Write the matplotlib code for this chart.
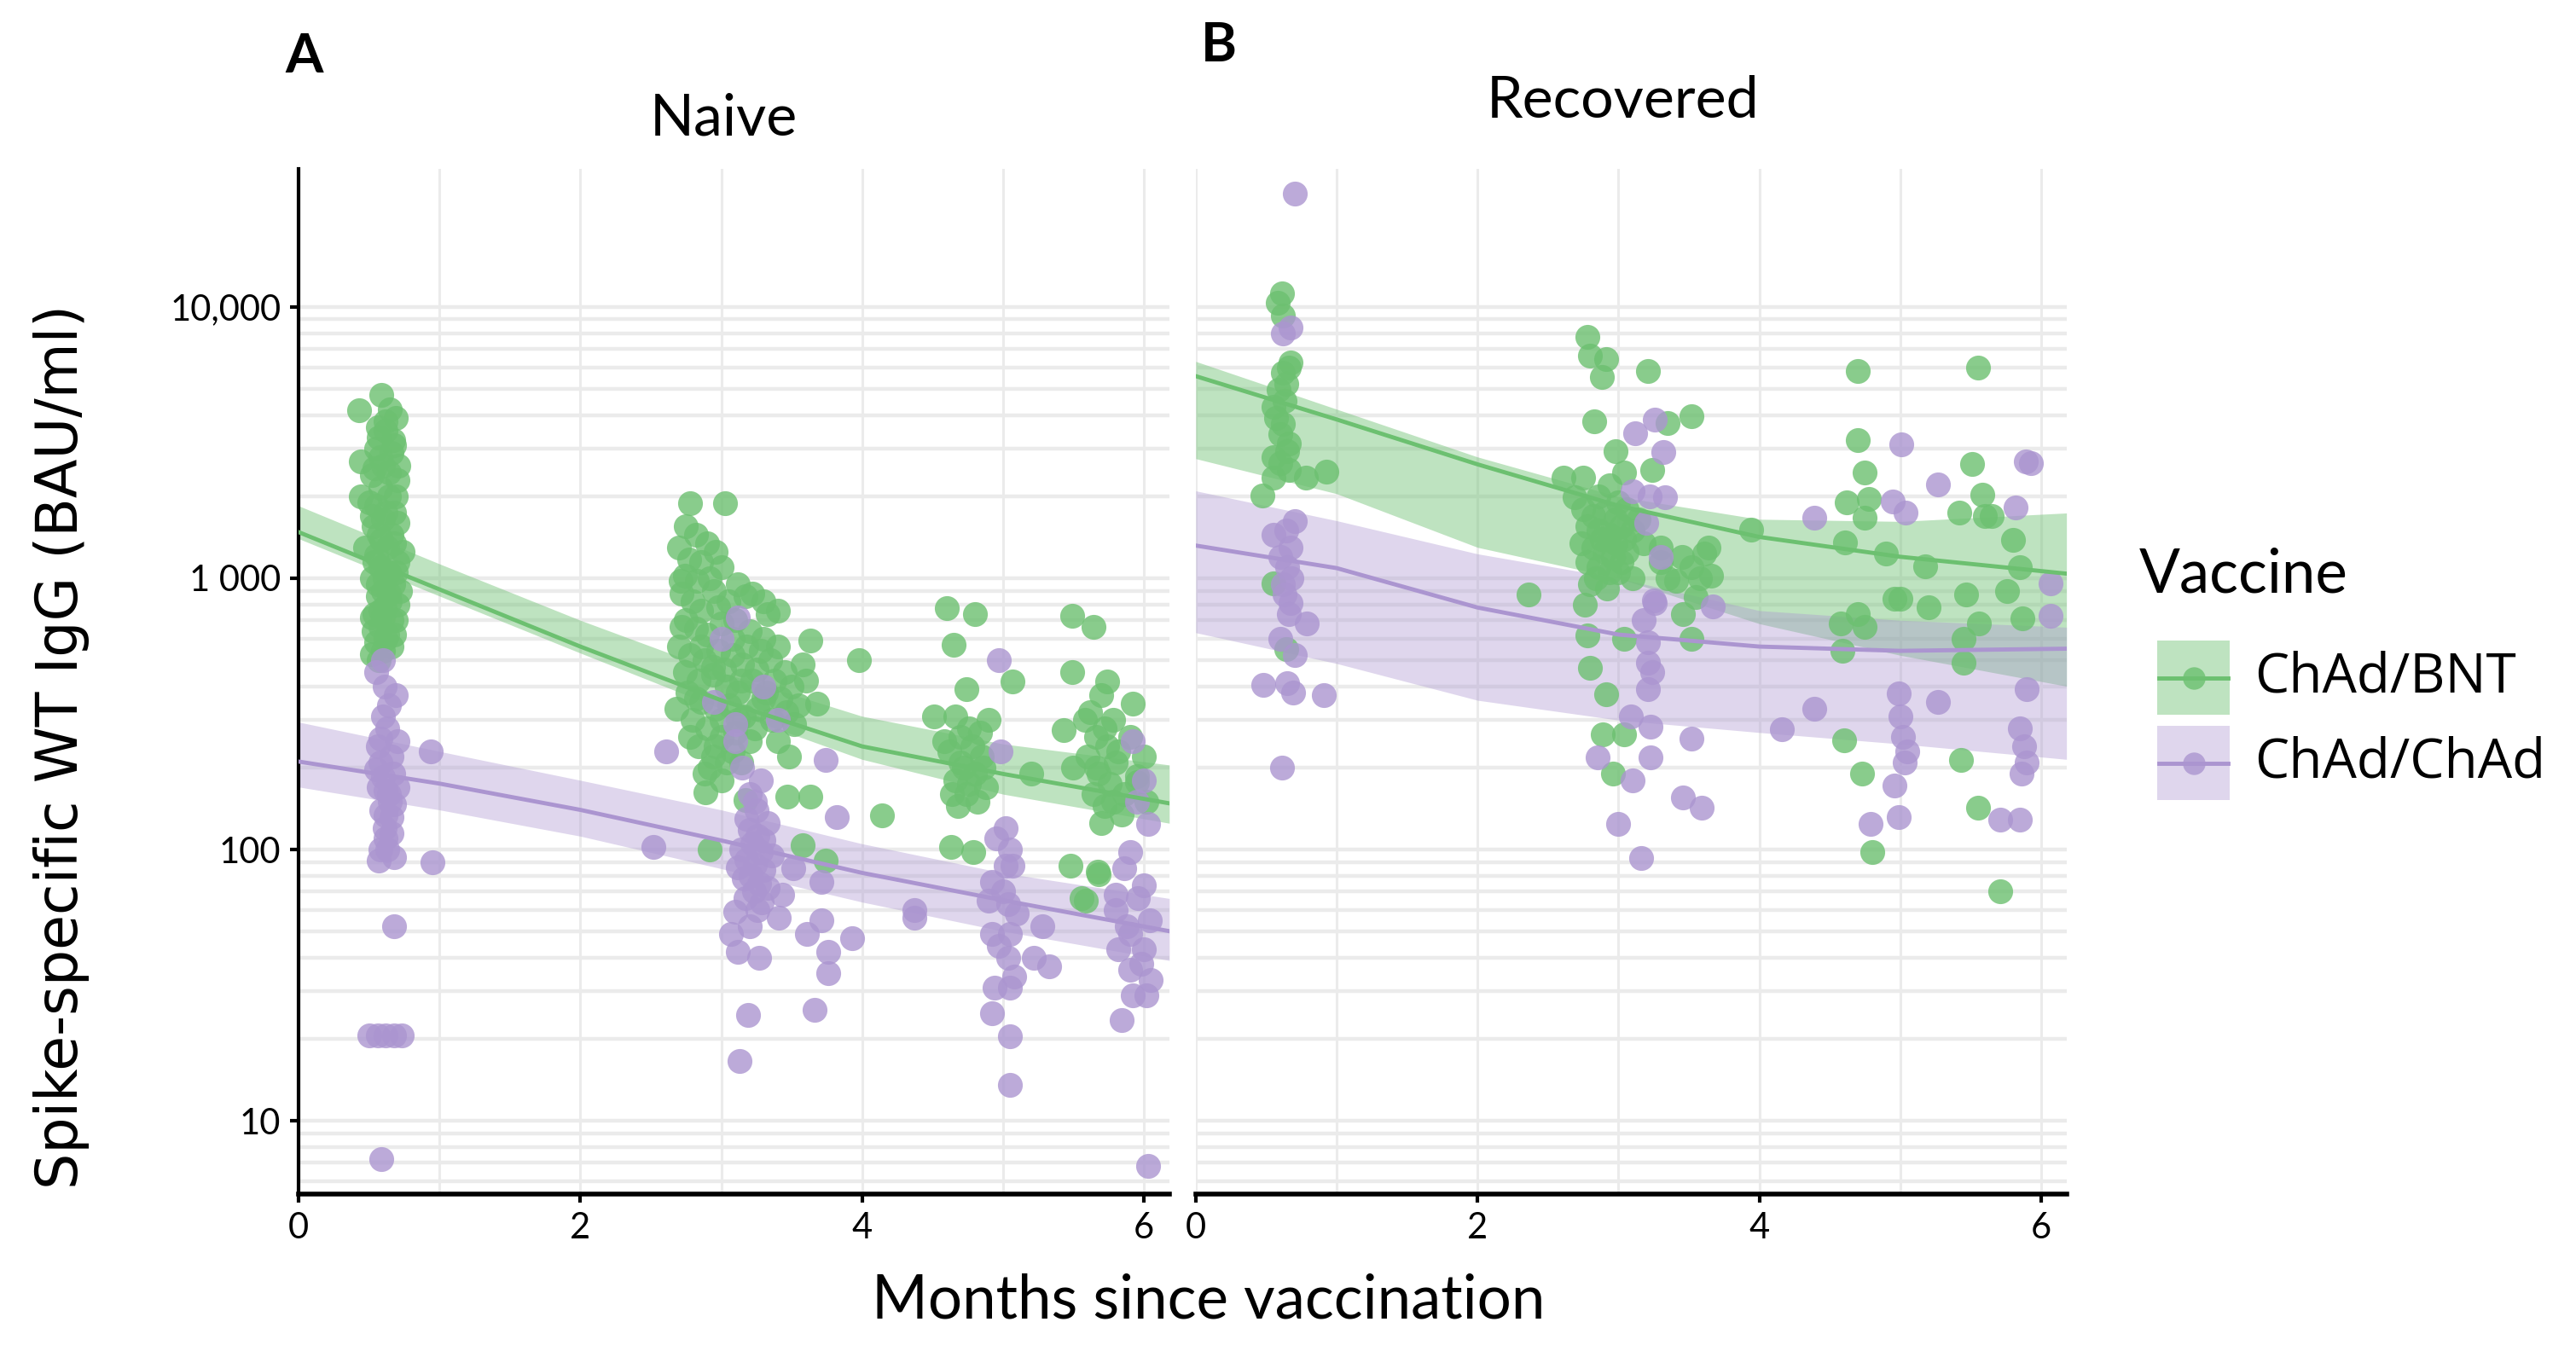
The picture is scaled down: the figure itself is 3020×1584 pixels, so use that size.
import numpy as np
import matplotlib
matplotlib.use("Agg")
import matplotlib.pyplot as plt
from matplotlib.patches import Rectangle
from matplotlib.ticker import FixedLocator, NullFormatter

GREEN = "#6cc070"
PURPLE = "#ab95d0"
GRID = "#ebebeb"

# fitted curves (months since vaccination, BAU/ml)
fit_months = [0, 1, 2, 3, 4, 5, 6.18]

naive_bnt_fit = [1480, 910, 560, 355, 240, 190, 148]
naive_bnt_hi = [1850, 1130, 700, 450, 310, 245, 205]
naive_bnt_lo = [1400, 860, 530, 330, 215, 160, 125]

naive_chad_fit = [211, 175, 140, 108, 82, 65, 50]
naive_chad_hi = [295, 230, 180, 140, 105, 82, 66]
naive_chad_lo = [170, 140, 112, 85, 64, 50, 39]

rec_bnt_fit = [5560, 3850, 2630, 1850, 1420, 1200, 1040]
rec_bnt_hi = [6300, 4200, 2800, 2000, 1650, 1620, 1740]
rec_bnt_lo = [2760, 2050, 1300, 1000, 680, 520, 400]

rec_chad_fit = [1320, 1090, 780, 620, 560, 540, 550]
rec_chad_hi = [2100, 1630, 1230, 1000, 760, 700, 660]
rec_chad_lo = [630, 485, 355, 300, 270, 245, 215]

# individual samples (month, BAU/ml)
naive_bnt_pts = [
    (0.59, 4740), (0.43, 4170), (0.69, 3900), (0.67, 3230), (0.44, 2700), (0.44, 2000),
    (0.52, 716), (0.52, 525), (0.62, 3500), (0.55, 3000), (0.66, 2900), (0.60, 2600),
    (0.52, 2400), (0.70, 2300), (0.58, 2150), (0.64, 2000), (0.55, 1850), (0.68, 1750),
    (0.60, 1650), (0.53, 1550), (0.66, 1450), (0.59, 1380), (0.63, 1300), (0.55, 1220),
    (0.70, 1150), (0.58, 1100), (0.64, 1050), (0.52, 1000), (0.67, 950), (0.60, 900),
    (0.56, 860), (0.65, 820), (0.61, 780), (0.54, 740), (0.69, 700), (0.58, 660),
    (0.63, 620), (0.55, 580), (0.66, 560), (0.60, 540), (0.57, 500), (0.72, 900),
    (0.74, 1250), (0.50, 1900), (0.47, 1300), (0.71, 2600), (0.62, 3800), (0.57, 3300),
    (0.65, 4200), (0.56, 3600), (0.68, 3100), (0.54, 2550), (0.64, 2450), (0.58, 2800),
    (0.69, 2000), (0.52, 1700), (0.62, 1750), (0.70, 1600), (0.57, 1450), (0.68, 1350),
    (0.54, 1150), (0.61, 1000), (0.69, 1050), (0.56, 950), (0.64, 880), (0.70, 800),
    (0.58, 760), (0.66, 700), (0.53, 640), (0.62, 600), (0.68, 620), (0.60, 720),
    (2.78, 1890), (3.03, 1890), (2.75, 1550), (2.90, 1350), (2.77, 1170), (2.71, 975),
    (2.83, 975), (3.17, 860), (3.40, 760), (3.33, 740), (3.63, 590), (3.68, 345),
    (3.98, 500), (2.89, 162), (3.17, 152), (2.92, 100), (3.47, 157), (3.63, 157),
    (3.58, 104), (3.74, 91), (2.72, 880), (2.80, 820), (2.86, 760), (2.95, 900),
    (3.05, 820), (2.75, 700), (2.82, 650), (2.90, 620), (3.00, 680), (3.10, 700),
    (3.20, 640), (3.30, 600), (3.40, 560), (2.70, 560), (2.78, 520), (2.88, 500),
    (2.98, 540), (3.08, 520), (3.15, 480), (3.25, 460), (3.35, 500), (3.45, 450),
    (2.74, 450), (2.84, 420), (2.94, 440), (3.04, 400), (3.12, 380), (3.22, 420),
    (3.32, 380), (3.42, 360), (3.50, 400), (2.76, 380), (2.86, 350), (2.96, 330),
    (3.06, 340), (3.16, 310), (3.26, 330), (3.36, 300), (3.46, 320), (2.80, 300),
    (2.90, 280), (3.00, 260), (3.10, 270), (3.20, 250), (2.84, 240), (2.94, 220),
    (3.04, 210), (2.88, 190), (3.00, 180), (2.78, 260), (3.52, 290), (3.55, 340),
    (3.60, 420), (3.58, 480), (2.68, 330), (2.92, 1000), (3.00, 1100), (2.96, 1250),
    (3.12, 950), (3.22, 880), (3.30, 820), (2.70, 1300),
    (2.82, 1450), (2.86, 1150), (2.74, 1020), (2.98, 780), (3.08, 600), (3.18, 560),
    (3.28, 540), (2.94, 470), (3.02, 460), (3.14, 420), (3.38, 420), (2.82, 360),
    (3.00, 300), (3.12, 300), (3.24, 280), (3.40, 250), (2.96, 240), (3.08, 230),
    (2.92, 200), (3.14, 210), (3.48, 220), (3.30, 360), (2.72, 660), (2.86, 560),
    (4.60, 775), (4.80, 740), (4.65, 570), (5.07, 415), (4.74, 390), (4.51, 310),
    (4.66, 310), (4.14, 134), (4.63, 102), (4.79, 98), (5.20, 190), (4.70, 260),
    (4.78, 240), (4.62, 230), (4.85, 220), (4.72, 200), (4.80, 190), (4.66, 180),
    (4.88, 170), (4.74, 160), (4.82, 150), (4.68, 145), (4.76, 280), (4.90, 300),
    (4.58, 250), (4.84, 270), (4.70, 210), (4.76, 175), (4.86, 200), (4.64, 160),
    (5.49, 725), (5.64, 660), (5.49, 450), (5.74, 415), (5.92, 345), (5.43, 275),
    (5.95, 186), (5.48, 87), (5.67, 83), (5.56, 66), (5.68, 81), (5.59, 65),
    (5.95, 177), (5.70, 370), (5.62, 320), (5.78, 300), (5.66, 260), (5.74, 240),
    (5.60, 220), (5.80, 210), (5.68, 190), (5.76, 175), (5.64, 160), (5.72, 145),
    (5.84, 135), (5.70, 125), (5.58, 300), (5.90, 260), (5.50, 200), (5.86, 160),
    (6.00, 220), (6.02, 150), (5.72, 280), (5.82, 230), (5.66, 200), (5.78, 150),
]

naive_chad_pts = [
    (0.60, 500), (0.61, 400), (0.69, 370), (0.60, 310), (0.58, 257), (0.94, 230),
    (0.55, 198), (0.64, 160), (0.62, 134), (0.68, 147), (0.66, 132), (0.62, 110),
    (0.57, 91), (0.68, 94), (0.95, 90), (0.68, 52), (0.50, 20.6), (0.56, 20.6),
    (0.62, 20.6), (0.68, 20.6), (0.73, 20.6), (0.59, 7.2), (0.63, 280), (0.56, 240),
    (0.66, 220), (0.60, 185), (0.57, 170), (0.65, 150), (0.61, 120), (0.58, 100),
    (0.70, 250), (0.55, 450), (0.64, 340), (0.58, 210), (0.67, 190), (0.62, 165),
    (0.59, 140), (0.66, 115), (0.63, 100), (0.70, 170),
    (2.61, 230), (3.74, 214), (3.10, 290), (3.12, 715), (3.82, 132), (2.52, 102),
    (3.10, 59), (3.07, 49), (3.12, 42), (3.27, 40), (3.43, 68), (3.41, 56),
    (3.61, 49), (3.71, 55), (3.76, 42), (3.93, 47), (3.76, 35), (3.19, 24.5),
    (3.66, 25.6), (3.13, 16.6), (3.51, 85), (3.71, 76), (4.37, 60), (4.37, 56),
    (3.20, 118), (3.26, 112), (3.22, 105), (3.28, 98), (3.18, 92), (3.24, 88),
    (3.30, 84), (3.21, 80), (3.27, 75), (3.23, 70), (3.17, 66), (3.29, 64),
    (3.25, 140), (3.20, 160), (3.28, 180), (3.15, 200), (3.33, 125), (3.36, 95),
    (3.14, 100), (3.12, 86), (3.00, 600), (3.30, 400), (2.95, 350), (3.10, 250),
    (3.40, 300), (3.18, 130), (3.24, 150), (3.30, 108), (3.16, 78), (3.26, 60),
    (3.20, 52), (3.33, 72),
    (4.97, 500), (4.98, 230), (5.02, 87), (5.07, 87), (4.92, 76), (5.04, 63),
    (4.92, 49), (5.05, 49), (5.04, 40), (5.22, 40), (5.33, 37), (5.28, 52),
    (4.94, 31), (5.05, 31), (4.92, 25), (5.05, 20.5), (5.05, 13.6), (4.95, 110),
    (5.05, 100), (5.00, 70), (5.10, 58), (4.97, 44), (5.08, 34), (5.02, 120),
    (4.90, 65),
    (5.92, 250), (5.90, 98), (6.00, 74), (5.80, 60), (5.90, 49), (6.00, 43),
    (5.82, 43), (5.90, 36), (6.02, 29), (5.92, 29), (5.84, 23.5), (6.03, 124),
    (6.03, 6.8), (5.86, 85), (5.96, 66), (6.04, 55), (5.88, 52), (5.98, 38),
    (6.05, 33), (5.80, 68), (5.95, 150), (6.00, 180),
]

rec_bnt_pts = [
    (0.61, 11200), (0.58, 10400), (0.62, 9300), (0.67, 6240), (0.62, 5730), (0.59, 4950),
    (0.55, 4280), (0.62, 3720), (0.66, 3150), (0.55, 2800), (0.66, 2500), (0.93, 2470),
    (0.47, 2020), (0.55, 2350), (0.78, 2350), (0.64, 550), (0.55, 955), (0.66, 6000),
    (0.64, 5200), (0.60, 3400), (0.63, 4500), (0.57, 3900), (0.65, 2950), (0.60, 2650),
    (2.78, 7760), (2.80, 6620), (2.91, 6440), (2.88, 5510), (3.21, 5820), (2.83, 3780),
    (3.52, 3960), (3.35, 3740), (2.98, 2950), (3.24, 2500), (2.61, 2350), (2.75, 2350),
    (2.69, 1990), (3.04, 2450), (2.75, 1800), (2.82, 1700), (2.90, 1750), (2.98, 1650),
    (3.06, 1800), (2.78, 1550), (2.86, 1500), (2.94, 1450), (3.02, 1550), (3.10, 1500),
    (2.74, 1350), (2.82, 1300), (2.90, 1250), (2.98, 1350), (3.06, 1250), (2.78, 1150),
    (2.86, 1100), (2.94, 1050), (3.02, 1150), (3.10, 1000), (2.80, 950), (2.92, 920),
    (3.30, 1150), (3.35, 1000), (3.30, 1300), (3.45, 1200), (3.52, 1100), (3.58, 1000),
    (3.64, 1300), (3.55, 850), (3.61, 1230), (3.66, 1020), (3.41, 980), (3.46, 740),
    (3.52, 600), (2.76, 800), (2.78, 617), (3.04, 600), (2.80, 467), (2.91, 373),
    (2.89, 265), (3.04, 265), (2.96, 191), (2.36, 870), (3.94, 1510),
    (2.86, 2000), (2.94, 2200), (3.00, 1900), (2.88, 1400), (2.96, 1200), (3.04, 1400),
    (2.84, 1000), (3.00, 1050), (3.14, 1650), (3.18, 1350),
    (4.70, 5800), (5.55, 5980), (4.70, 3220), (4.75, 2450), (5.51, 2640), (4.62, 1900),
    (4.78, 1960), (4.75, 1670), (5.42, 1740), (5.58, 2030), (5.60, 1700), (5.65, 1700),
    (4.61, 1360), (4.90, 1230), (5.18, 1110), (5.80, 1380), (5.85, 1100), (5.47, 870),
    (5.76, 900), (4.96, 840), (5.00, 840), (5.20, 780), (4.70, 740), (4.75, 660),
    (4.58, 680), (4.59, 540), (5.56, 680), (5.45, 600), (5.45, 490), (5.87, 710),
    (4.60, 252), (5.43, 214), (4.73, 191), (5.55, 143), (4.80, 98), (5.71, 70),
]

rec_chad_pts = [
    (0.70, 26200), (0.67, 8400), (0.62, 8000), (0.70, 1630), (0.55, 1450), (0.67, 1300),
    (0.65, 1100), (0.62, 950), (0.67, 810), (0.79, 680), (0.48, 405), (0.65, 410),
    (0.69, 380), (0.91, 370), (0.61, 200), (0.64, 1500), (0.60, 1200), (0.68, 1000),
    (0.63, 870), (0.66, 740), (0.60, 600), (0.70, 520),
    (3.26, 3850), (3.12, 3430), (3.32, 2920), (3.10, 2090), (3.22, 2000), (3.33, 1990),
    (3.26, 810), (3.25, 830), (2.85, 218), (3.10, 180), (3.00, 124), (3.16, 93),
    (3.21, 580), (3.21, 490), (3.21, 390), (3.09, 310), (3.23, 283), (3.23, 218),
    (3.52, 256), (3.46, 155), (3.59, 143), (3.67, 790), (3.20, 1600), (3.30, 1200),
    (3.18, 700), (3.24, 450),
    (5.01, 3110), (5.27, 2220), (5.89, 2690), (5.93, 2660), (4.95, 1920), (5.04, 1740),
    (4.39, 1670), (5.82, 1830), (6.07, 960), (6.07, 725), (5.90, 390), (4.99, 376),
    (5.27, 350), (4.39, 330), (4.16, 277), (5.00, 310), (5.02, 260), (5.05, 230),
    (5.03, 210), (5.85, 280), (5.88, 240), (5.90, 210), (5.86, 190), (4.96, 172),
    (4.79, 124), (4.99, 132), (5.71, 129), (5.85, 129),
]

x_ticks = [0, 2, 4, 6]
y_ticks = [10, 100, 1000, 10000]
y_tick_labels = ["10", "100", "1 000", "10,000"]
panel_titles = ["Naive", "Recovered"]
panel_letters = ["A", "B"]
vaccines = ["ChAd/BNT", "ChAd/ChAd"]

TEXT_FONT = ["Lato", "DejaVu Sans"]

fig = plt.figure(figsize=(30.2, 15.84), dpi=100)
ax_a = fig.add_axes([0.1159, 0.1162, 0.338, 0.7588])
ax_b = fig.add_axes([0.4642, 0.1162, 0.338, 0.7588])

minor_y = [k * 10 ** n for n in range(0, 4) for k in range(2, 10)] + [6, 7, 8, 9]

panels = [
    (ax_a, naive_bnt_pts, naive_chad_pts,
     (naive_bnt_fit, naive_bnt_lo, naive_bnt_hi), (naive_chad_fit, naive_chad_lo, naive_chad_hi)),
    (ax_b, rec_bnt_pts, rec_chad_pts,
     (rec_bnt_fit, rec_bnt_lo, rec_bnt_hi), (rec_chad_fit, rec_chad_lo, rec_chad_hi)),
]

for i, (ax, bnt_pts, chad_pts, bnt_fit, chad_fit) in enumerate(panels):
    ax.set_yscale("log")
    ax.set_xlim(0, 6.18)
    ax.set_ylim(5.37, 32300)

    ax.xaxis.set_major_locator(FixedLocator(x_ticks))
    ax.xaxis.set_minor_locator(FixedLocator([1, 3, 5]))
    ax.yaxis.set_major_locator(FixedLocator(y_ticks))
    ax.yaxis.set_minor_locator(FixedLocator(sorted(set(minor_y))))
    ax.yaxis.set_minor_formatter(NullFormatter())
    ax.set_yticklabels(y_tick_labels)
    ax.set_xticklabels([str(t) for t in x_ticks])

    ax.grid(True, which="both", axis="x", color=GRID, lw=2.2, zorder=0)
    ax.grid(True, which="both", axis="y", color=GRID, lw=3.2, zorder=0)
    ax.set_axisbelow(True)

    for side in ["top", "right"]:
        ax.spines[side].set_visible(False)
    ax.spines["bottom"].set_linewidth(4)
    ax.spines["left"].set_linewidth(3)
    ax.tick_params(which="minor", length=0)
    ax.tick_params(which="major", length=7, width=3, labelsize=30, pad=8)
    for lab in ax.get_xticklabels() + ax.get_yticklabels():
        lab.set_family(TEXT_FONT)
    if i == 1:
        ax.spines["left"].set_visible(False)
        ax.tick_params(axis="y", which="both", left=False, labelleft=False)

    for (fit, lo, hi), col, alpha in [(bnt_fit, GREEN, 0.44), (chad_fit, PURPLE, 0.38)]:
        ax.fill_between(fit_months, lo, hi, color=col, alpha=alpha, lw=0, zorder=2)

    for pts, col in [(bnt_pts, GREEN), (chad_pts, PURPLE)]:
        p = np.array(pts)
        ax.scatter(p[:, 0], p[:, 1], s=440, color=col, alpha=0.8, lw=0, zorder=3)

    for (fit, lo, hi), col in [(bnt_fit, GREEN), (chad_fit, PURPLE)]:
        ax.plot(fit_months, fit, color=col, lw=3.5, zorder=4)

# panel titles and letters
fig.text(0.281, 0.912, panel_titles[0], fontsize=49, family=TEXT_FONT, ha="center", va="center")
fig.text(0.630, 0.925, panel_titles[1], fontsize=49, family=TEXT_FONT, ha="center", va="center")
fig.text(0.118, 0.958, panel_letters[0], fontsize=46, weight="bold", family=TEXT_FONT, ha="center", va="center")
fig.text(0.473, 0.966, panel_letters[1], fontsize=46, weight="bold", family=TEXT_FONT, ha="center", va="center")

fig.text(0.469, 0.037, "Months since vaccination", fontsize=51, family=TEXT_FONT, ha="center", va="center")
fig.text(0.024, 0.447, "Spike-specific WT IgG (BAU/ml)", fontsize=48, family="DejaVu Sans",
         rotation=90, ha="center", va="center")

# legend, drawn in pixel coordinates
lax = fig.add_axes([0, 0, 1, 1], zorder=10)
lax.set_xlim(0, 3020)
lax.set_ylim(1584, 0)
lax.axis("off")
lax.text(2508, 674, "Vaccine", fontsize=51, family=TEXT_FONT, ha="left", va="center")
for k, (name, col, alpha) in enumerate([(vaccines[0], GREEN, 0.44), (vaccines[1], PURPLE, 0.38)]):
    top = 751 + k * 100
    lax.add_patch(Rectangle((2529, top), 85, 87, color=col, alpha=alpha, lw=0))
    cy = top + 43.5
    lax.plot([2531, 2612], [cy, cy], color=col, lw=3.5)
    lax.plot([2571.5], [cy], "o", color=col, alpha=0.8, markersize=19, mew=0)
    lax.text(2643, cy, name, fontsize=46, family=["Open Sans", "DejaVu Sans"], ha="left", va="center")

fig.savefig("out.png", dpi=100)
